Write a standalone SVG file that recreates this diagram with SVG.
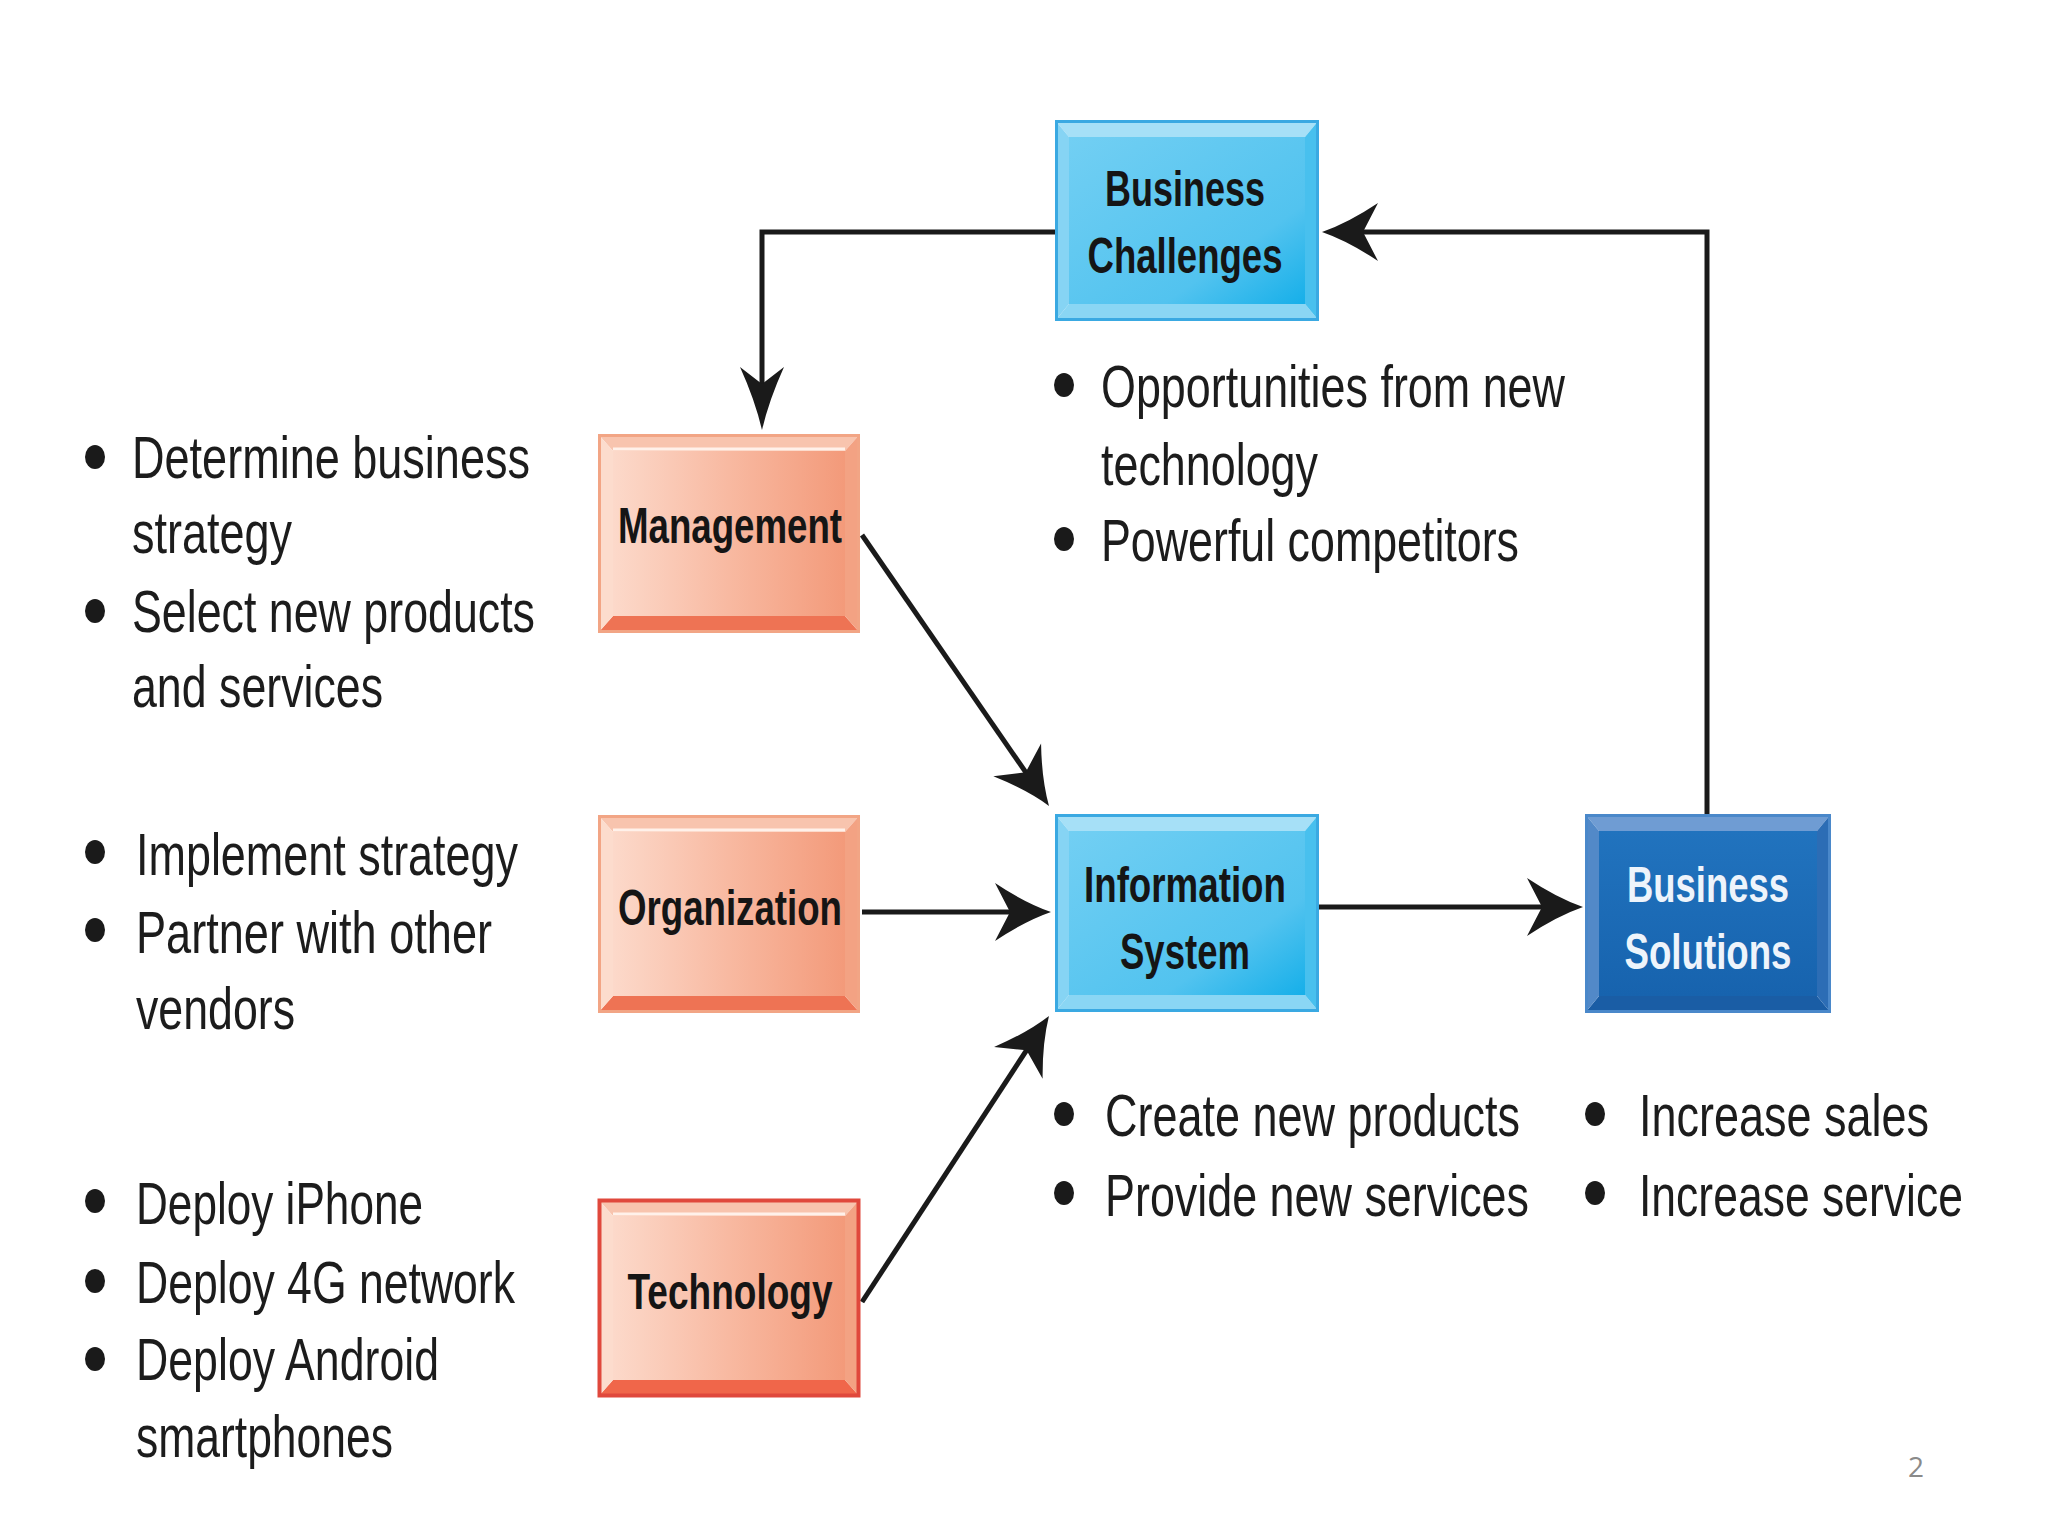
<svg xmlns="http://www.w3.org/2000/svg" width="2048" height="1536" viewBox="0 0 2048 1536">
<defs>
<style>
.body{font-family:"Liberation Sans","Arial",sans-serif;font-size:60px;fill:#1c1c1c}
.lbl{font-family:"Liberation Sans","Arial",sans-serif;font-size:50px;font-weight:bold;fill:#151515;text-anchor:middle}
.lblw{font-family:"Liberation Sans","Arial",sans-serif;font-size:50px;font-weight:bold;fill:#eef4fb;text-anchor:middle}
.bul{fill:#1a1a1a}
.conn{fill:none;stroke:#1a1a1a;stroke-width:5}
.pg{font-family:"Open Sans","Liberation Sans",sans-serif;font-size:28px;fill:#8a8a8a;text-anchor:middle}
</style>
<linearGradient id="gSal" x1="0" y1="0" x2="1" y2="0">
<stop offset="0" stop-color="#FCD9CA"/><stop offset="0.5" stop-color="#F8B9A1"/><stop offset="1" stop-color="#F39A7A"/>
</linearGradient>
<linearGradient id="gBlue" x1="0" y1="0" x2="1" y2="1">
<stop offset="0" stop-color="#72CFF3"/><stop offset="0.7" stop-color="#52C3EF"/><stop offset="1" stop-color="#16AFE9"/>
</linearGradient>
<linearGradient id="gDark" x1="0" y1="0" x2="0" y2="1">
<stop offset="0" stop-color="#2173BE"/><stop offset="1" stop-color="#1763AE"/>
</linearGradient>
<marker id="ahW" markerUnits="userSpaceOnUse" viewBox="-60 -35 65 70" markerWidth="65" markerHeight="70" refX="-25" refY="0" orient="auto">
<path d="M0,0 Q-26,-9 -56,-29 L-41,0 L-56,29 Q-26,9 0,0 Z" fill="#1a1a1a"/>
</marker>
<marker id="ahN" markerUnits="userSpaceOnUse" viewBox="-66 -30 71 60" markerWidth="71" markerHeight="60" refX="-25" refY="0" orient="auto">
<path d="M0,0 Q-30,-7 -63,-22 L-46,0 L-63,22 Q-30,7 0,0 Z" fill="#1a1a1a"/>
</marker>
</defs>
<rect x="0" y="0" width="2048" height="1536" fill="#ffffff"/>

<g id="connectors">
<path class="conn" d="M1055,232 H762 V405" marker-end="url(#ahN)"/>
<path class="conn" d="M1707,814 V232 H1347" marker-end="url(#ahW)"/>
<path class="conn" d="M862,535 L1034.8,785.4" marker-end="url(#ahW)"/>
<path class="conn" d="M862,912 H1026" marker-end="url(#ahW)"/>
<path class="conn" d="M862,1302 L1035.3,1036.9" marker-end="url(#ahW)"/>
<path class="conn" d="M1319,907 H1558" marker-end="url(#ahW)"/>
</g>

<g id="business-challenges">
<polygon points="1055,120 1319,120 1305,137 1069,137" fill="#A6E0F7"/>
<polygon points="1055,321 1319,321 1305,304 1069,304" fill="#8AD6F4"/>
<polygon points="1055,120 1069,137 1069,304 1055,321" fill="#86D4F4"/>
<polygon points="1319,120 1305,137 1305,304 1319,321" fill="#48C0EE"/>
<rect x="1069" y="137" width="236" height="167" fill="url(#gBlue)"/>
<rect x="1056.5" y="121.5" width="261" height="198" fill="none" stroke="#3AA9E2" stroke-width="3"/>
<text class="lbl" x="1185" y="206" textLength="160" lengthAdjust="spacingAndGlyphs">Business</text>
<text class="lbl" x="1185" y="273" textLength="195" lengthAdjust="spacingAndGlyphs">Challenges</text>
</g>

<g id="management">
<polygon points="598,434 860,434 845,451 613,451" fill="#F8C4AE"/>
<line x1="613" y1="449" x2="845" y2="449" stroke="#FFF1EA" stroke-width="3"/>
<polygon points="598,633 860,633 845,616 613,616" fill="#EE7354"/>
<polygon points="598,434 613,451 613,616 598,633" fill="#FCDCCD"/>
<polygon points="860,434 845,451 845,616 860,633" fill="#F3A283"/>
<rect x="613" y="451" width="232" height="165" fill="url(#gSal)"/>
<rect x="599.5" y="435.5" width="259" height="196" fill="none" stroke="#F2A585" stroke-width="3"/>
<text class="lbl" x="730" y="543" textLength="224" lengthAdjust="spacingAndGlyphs">Management</text>
</g>

<g id="organization">
<polygon points="598,815 860,815 845,832 613,832" fill="#F8C4AE"/>
<line x1="613" y1="830" x2="845" y2="830" stroke="#FFF1EA" stroke-width="3"/>
<polygon points="598,1013 860,1013 845,996 613,996" fill="#EE7354"/>
<polygon points="598,815 613,832 613,996 598,1013" fill="#FCDCCD"/>
<polygon points="860,815 845,832 845,996 860,1013" fill="#F3A283"/>
<rect x="613" y="832" width="232" height="164" fill="url(#gSal)"/>
<rect x="599.5" y="816.5" width="259" height="195" fill="none" stroke="#F2A585" stroke-width="3"/>
<text class="lbl" x="730" y="925" textLength="224" lengthAdjust="spacingAndGlyphs">Organization</text>
</g>

<g id="technology">
<polygon points="598,1199 860,1199 845,1216 613,1216" fill="#F8C4AE"/>
<line x1="613" y1="1214" x2="845" y2="1214" stroke="#FFF1EA" stroke-width="3"/>
<polygon points="598,1397 860,1397 845,1380 613,1380" fill="#F0664A"/>
<polygon points="598,1199 613,1216 613,1380 598,1397" fill="#FCDCCD"/>
<polygon points="860,1199 845,1216 845,1380 860,1397" fill="#F3A283"/>
<rect x="613" y="1216" width="232" height="164" fill="url(#gSal)"/>
<rect x="599.5" y="1200.5" width="259" height="195" fill="none" stroke="#E0483C" stroke-width="4"/>
<text class="lbl" x="730" y="1309" textLength="205" lengthAdjust="spacingAndGlyphs">Technology</text>
</g>

<g id="information-system">
<polygon points="1055,814 1319,814 1305,831 1069,831" fill="#A6E0F7"/>
<polygon points="1055,1012 1319,1012 1305,995 1069,995" fill="#8AD6F4"/>
<polygon points="1055,814 1069,831 1069,995 1055,1012" fill="#86D4F4"/>
<polygon points="1319,814 1305,831 1305,995 1319,1012" fill="#48C0EE"/>
<rect x="1069" y="831" width="236" height="164" fill="url(#gBlue)"/>
<rect x="1056.5" y="815.5" width="261" height="195" fill="none" stroke="#3AA9E2" stroke-width="3"/>
<text class="lbl" x="1185" y="902" textLength="202" lengthAdjust="spacingAndGlyphs">Information</text>
<text class="lbl" x="1185" y="969" textLength="130" lengthAdjust="spacingAndGlyphs">System</text>
</g>

<g id="business-solutions">
<polygon points="1585,814 1831,814 1817,831 1599,831" fill="#6F9CD3"/>
<polygon points="1585,1013 1831,1013 1817,996 1599,996" fill="#1A5DA5"/>
<polygon points="1585,814 1599,831 1599,996 1585,1013" fill="#5289C8"/>
<polygon points="1831,814 1817,831 1817,996 1831,1013" fill="#2C6DB5"/>
<rect x="1599" y="831" width="218" height="165" fill="url(#gDark)"/>
<rect x="1586.5" y="815.5" width="243" height="196" fill="none" stroke="#4A88CA" stroke-width="3"/>
<text class="lblw" x="1708" y="902" textLength="162" lengthAdjust="spacingAndGlyphs">Business</text>
<text class="lblw" x="1708" y="969" textLength="167" lengthAdjust="spacingAndGlyphs">Solutions</text>
</g>

<g id="management-notes">
<ellipse class="bul" cx="95" cy="457" rx="10" ry="12"/>
<ellipse class="bul" cx="95" cy="611" rx="10" ry="12"/>
<text class="body" x="132" y="478" textLength="398" lengthAdjust="spacingAndGlyphs">Determine business</text>
<text class="body" x="132" y="553" textLength="160" lengthAdjust="spacingAndGlyphs">strategy</text>
<text class="body" x="132" y="632" textLength="403" lengthAdjust="spacingAndGlyphs">Select new products</text>
<text class="body" x="132" y="707" textLength="251" lengthAdjust="spacingAndGlyphs">and services</text>
</g>

<g id="organization-notes">
<ellipse class="bul" cx="95" cy="852" rx="10" ry="12"/>
<ellipse class="bul" cx="95" cy="930" rx="10" ry="12"/>
<text class="body" x="136" y="875" textLength="382" lengthAdjust="spacingAndGlyphs">Implement strategy</text>
<text class="body" x="136" y="953" textLength="356" lengthAdjust="spacingAndGlyphs">Partner with other</text>
<text class="body" x="136" y="1029" textLength="159" lengthAdjust="spacingAndGlyphs">vendors</text>
</g>

<g id="technology-notes">
<ellipse class="bul" cx="95" cy="1201" rx="10" ry="12"/>
<ellipse class="bul" cx="95" cy="1281" rx="10" ry="12"/>
<ellipse class="bul" cx="95" cy="1359" rx="10" ry="12"/>
<text class="body" x="136" y="1224" textLength="287" lengthAdjust="spacingAndGlyphs">Deploy iPhone</text>
<text class="body" x="136" y="1303" textLength="379" lengthAdjust="spacingAndGlyphs">Deploy 4G network</text>
<text class="body" x="136" y="1380" textLength="303" lengthAdjust="spacingAndGlyphs">Deploy Android</text>
<text class="body" x="136" y="1457" textLength="257" lengthAdjust="spacingAndGlyphs">smartphones</text>
</g>

<g id="challenges-notes">
<ellipse class="bul" cx="1064" cy="385" rx="10" ry="12"/>
<ellipse class="bul" cx="1064" cy="539" rx="10" ry="12"/>
<text class="body" x="1101" y="407" textLength="464" lengthAdjust="spacingAndGlyphs">Opportunities from new</text>
<text class="body" x="1101" y="485" textLength="217" lengthAdjust="spacingAndGlyphs">technology</text>
<text class="body" x="1101" y="561" textLength="418" lengthAdjust="spacingAndGlyphs">Powerful competitors</text>
</g>

<g id="system-notes">
<ellipse class="bul" cx="1064" cy="1114" rx="10" ry="12"/>
<ellipse class="bul" cx="1064" cy="1193" rx="10" ry="12"/>
<text class="body" x="1105" y="1136" textLength="415" lengthAdjust="spacingAndGlyphs">Create new products</text>
<text class="body" x="1105" y="1216" textLength="424" lengthAdjust="spacingAndGlyphs">Provide new services</text>
</g>

<g id="solutions-notes">
<ellipse class="bul" cx="1595" cy="1114" rx="10" ry="12"/>
<ellipse class="bul" cx="1595" cy="1193" rx="10" ry="12"/>
<text class="body" x="1639" y="1136" textLength="290" lengthAdjust="spacingAndGlyphs">Increase sales</text>
<text class="body" x="1639" y="1216" textLength="324" lengthAdjust="spacingAndGlyphs">Increase service</text>
</g>

<text class="pg" x="1916" y="1477">2</text>
</svg>
